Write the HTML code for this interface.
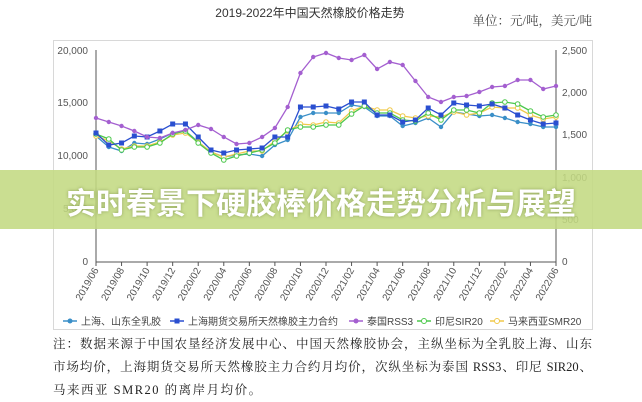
<!DOCTYPE html>
<html><head><meta charset="utf-8"><style>
body{margin:0;background:#fff;width:642px;height:400px;overflow:hidden;position:relative;font-family:"Liberation Sans","Noto Sans CJK SC",sans-serif}
svg{position:absolute;left:0;top:0}
.band{position:absolute;left:0;top:170px;width:642px;height:59px;background:rgba(195,218,130,0.88);}
.band div{position:absolute;left:0;width:642px;top:9px;text-align:center;color:#fff;font-weight:bold;font-size:30px;text-shadow:0 0 3px rgba(90,110,40,.5);font-family:"Noto Sans CJK SC",sans-serif}
.note{position:absolute;left:53px;top:333px;width:539px;font-family:"Liberation Serif","Noto Serif CJK SC",serif;font-size:12.5px;line-height:23px;color:#222}
.note div{white-space:nowrap}
.j{text-align:justify;text-align-last:justify}
</style></head><body>
<svg width="642" height="400" xmlns="http://www.w3.org/2000/svg" id="s">
<text x="310" y="17" font-size="12" text-anchor="middle" fill="#333" font-family="Liberation Sans,Noto Sans CJK SC,sans-serif">2019-2022年中国天然橡胶价格走势</text>
<text x="592" y="25" font-size="12.5" text-anchor="end" fill="#444" font-family="Liberation Serif,Noto Serif CJK SC,serif">单位：元/吨，美元/吨</text>
<rect x="53.5" y="40.5" width="539" height="289" fill="none" stroke="#d8d8d8"/>
<line x1="96" y1="50" x2="96" y2="262" stroke="#555"/>
<line x1="556" y1="50" x2="556" y2="262" stroke="#555"/>
<line x1="96" y1="262" x2="556" y2="262" stroke="#555"/>
<g font-size="10" fill="#555" font-family="Liberation Sans,sans-serif">
<text x="88" y="54" text-anchor="end">20,000</text>
<text x="88" y="106" text-anchor="end">15,000</text>
<text x="88" y="159" text-anchor="end">10,000</text>
<text x="88" y="212" text-anchor="end">5,000</text>
<text x="88" y="265" text-anchor="end">0</text>
<text x="562" y="54">2,500</text>
<text x="562" y="96">2,000</text>
<text x="562" y="138">1,500</text>
<text x="562" y="181">1,000</text>
<text x="562" y="223">500</text>
<text x="562" y="265">0</text>
</g>
<g id="ticks"></g>
<g id="series"></g>
<g font-size="10" fill="#444" font-family="Liberation Sans,Noto Sans CJK SC,sans-serif">
<line x1="63" y1="321" x2="77" y2="321" stroke="#3a8fc8" stroke-width="1.5"/><circle cx="70" cy="321" r="2.5" fill="#3a8fc8"/><text x="81" y="325">上海、山东全乳胶</text>
<line x1="170" y1="321" x2="184" y2="321" stroke="#2a4fd0" stroke-width="1.5"/><rect x="174.5" y="318.5" width="5" height="5" fill="#2a4fd0"/><text x="188" y="325">上海期货交易所天然橡胶主力合约</text>
<line x1="349" y1="321" x2="363" y2="321" stroke="#a45fd0" stroke-width="1.5"/><circle cx="356" cy="321" r="2.5" fill="#a45fd0"/><text x="367" y="325">泰国RSS3</text>
<line x1="417" y1="321" x2="431" y2="321" stroke="#4cc84c" stroke-width="1.5"/><circle cx="424" cy="321" r="2.5" fill="#fff" stroke="#4cc84c"/><text x="435" y="325">印尼SIR20</text>
<line x1="490" y1="321" x2="504" y2="321" stroke="#f0c94a" stroke-width="1.5"/><circle cx="497" cy="321" r="2.5" fill="#fff" stroke="#f0c94a"/><text x="508" y="325">马来西亚SMR20</text>
</g>
</svg>
<div class="band"><div>实时春景下硬胶棒价格走势分析与展望</div></div>
<div class="note"><div class="j">注：数据来源于中国农垦经济发展中心、中国天然橡胶协会，主纵坐标为全乳胶上海、山东</div><div class="j">市场均价，上海期货交易所天然橡胶主力合约月均价，次纵坐标为泰国 RSS3、印尼 SIR20、</div><div style="letter-spacing:1.5px">马来西亚 SMR20 的离岸月均价。</div></div>
<script>
function X(i){return 96+i*(460/36);}
var t=document.getElementById("ticks"),h="";
var labs=["2019/06","2019/08","2019/10","2019/12","2020/02","2020/04","2020/06","2020/08","2020/10","2020/12","2021/02","2021/04","2021/06","2021/08","2021/10","2021/12","2022/02","2022/04","2022/06"];
for(var k=0;k<labs.length;k++){var x=X(k*2);
h+='<line x1="'+x+'" y1="262" x2="'+x+'" y2="266" stroke="#555"/>';
h+='<text x="'+(x+3)+'" y="270" font-size="10" fill="#555" text-anchor="end" font-family="Liberation Sans,sans-serif" transform="rotate(-60 '+(x+3)+' 270)">'+labs[k]+'</text>';}
t.innerHTML=h;
var S=[
["#3a8fc8","c",[136,147,151,143,144,139,133,131,142,152,157,155,154,156,145,140,117,113,113,113,105,107,116,116,126,123,118,127,112,114,116,115,118,122,124,127,127]],
["#f0c94a","o",[136,141,149,146,146,142,135,133,142,152,157,154,151,151,141,131,124,125,122,123,111,106,110,110,116,118,116,117,112,115,113,107,108,108,115,119,117]],
["#4cc84c","o",[134,139,150,147,147,143,134,131,143,153,160,156,153,150,143,130,127,127,125,125,114,106,113,113,120,121,113,120,110,110,113,103,102,104,111,117,115]],
["#2a4fd0","s",[133,145,143,136,137,131,124,124,137,150,153,150,149,148,137,137,107,107,106,109,102,102,115,115,122,120,108,115,103,105,106,104,108,115,120,124,123]],
["#a45fd0","c",[118,122,126,131,137,138,133,130,125,129,137,144,143,137,128,107,73,57,53,58,60,55,69,62,65,81,97,102,97,96,92,87,86,80,80,89,86]]];
var g="";
S.forEach(function(s){var p=s[2].map(function(v,i){return X(i).toFixed(1)+","+v;}).join(" ");
g+='<polyline points="'+p+'" fill="none" stroke="'+s[0]+'" stroke-width="1.3"/>';
s[2].forEach(function(v,i){var x=X(i);
if(s[1]=="s")g+='<rect x="'+(x-2.5)+'" y="'+(v-2.5)+'" width="5" height="5" fill="'+s[0]+'"/>';
else if(s[1]=="o")g+='<circle cx="'+x+'" cy="'+v+'" r="2.3" fill="#fff" stroke="'+s[0]+'" stroke-width="1"/>';
else g+='<circle cx="'+x+'" cy="'+v+'" r="2.2" fill="'+s[0]+'"/>';});});
document.getElementById("series").innerHTML=g;
</script>
</body></html>
